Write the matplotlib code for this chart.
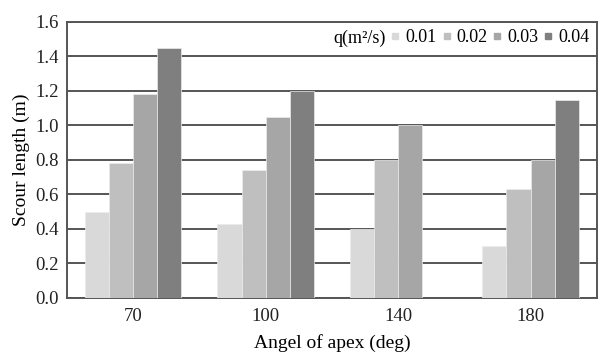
import matplotlib
matplotlib.use("Agg")
import matplotlib.pyplot as plt
from matplotlib.lines import Line2D
import numpy as np

categories = ["70", "100", "140", "180"]
series_labels = ["0.01", "0.02", "0.03", "0.04"]
q001 = [0.50, 0.43, 0.40, 0.30]
q002 = [0.78, 0.74, 0.80, 0.63]
q003 = [1.18, 1.05, 1.00, 0.80]
q004 = [1.45, 1.20, 0.0, 1.15]
colors = ["#d9d9d9", "#bfbfbf", "#a6a6a6", "#7f7f7f"]

plt.rcParams['font.family'] = ['Liberation Serif', 'DejaVu Serif']

fig = plt.figure(figsize=(6.04, 3.58), dpi=100)
ax = fig.add_axes([0.111, 0.1676, 0.877, 0.771])

x = np.arange(len(categories))
w = 0.182
allv = [q001, q002, q003, q004]
for i, (vals, c) in enumerate(zip(allv, colors)):
    ax.bar(x + (i - 1.5) * w, vals, width=w, color=c, edgecolor="#ebebeb",
           linewidth=0.5, zorder=3)

ax.set_ylim(0, 1.6)
ax.set_xlim(-0.5, 3.5)
ax.set_yticks(np.arange(0, 1.61, 0.2))
ax.set_yticklabels([f"{v:.1f}" for v in np.arange(0, 1.61, 0.2)], fontsize=13.5)
ax.set_xticks(x)
ax.set_xticklabels(categories, fontsize=13.5)
ax.tick_params(axis='y', length=0, pad=6, colors="#222222")
ax.tick_params(axis='x', length=0, pad=7, colors="#222222")
ax.grid(axis='y', color="#555555", linewidth=1.4, zorder=0)
ax.set_axisbelow(True)
for s in ax.spines.values():
    s.set_color("#555555")
    s.set_linewidth(1.4)

ax.set_ylabel("Scour length (m)", fontsize=14, labelpad=4)
ax.set_xlabel("Angel of apex (deg)", fontsize=14, labelpad=7)

handles = [Line2D([], [], linestyle='none', marker=None)]
labels = ["q(m²/s)"]
for c, l in zip(colors, series_labels):
    handles.append(Line2D([], [], linestyle='none', marker='s', markersize=5,
                          markerfacecolor=c, markeredgecolor=c))
    labels.append(l)
leg = ax.legend(handles, labels, ncol=5, loc='upper right', fontsize=13,
                handlelength=0.4, handletextpad=0.35, columnspacing=0.35,
                borderaxespad=0.1, borderpad=0.3, frameon=True, fancybox=False)
leg.get_frame().set_facecolor('white')
leg.get_frame().set_edgecolor('none')
leg.get_frame().set_alpha(1)

fig.savefig("out.png", dpi=100)
